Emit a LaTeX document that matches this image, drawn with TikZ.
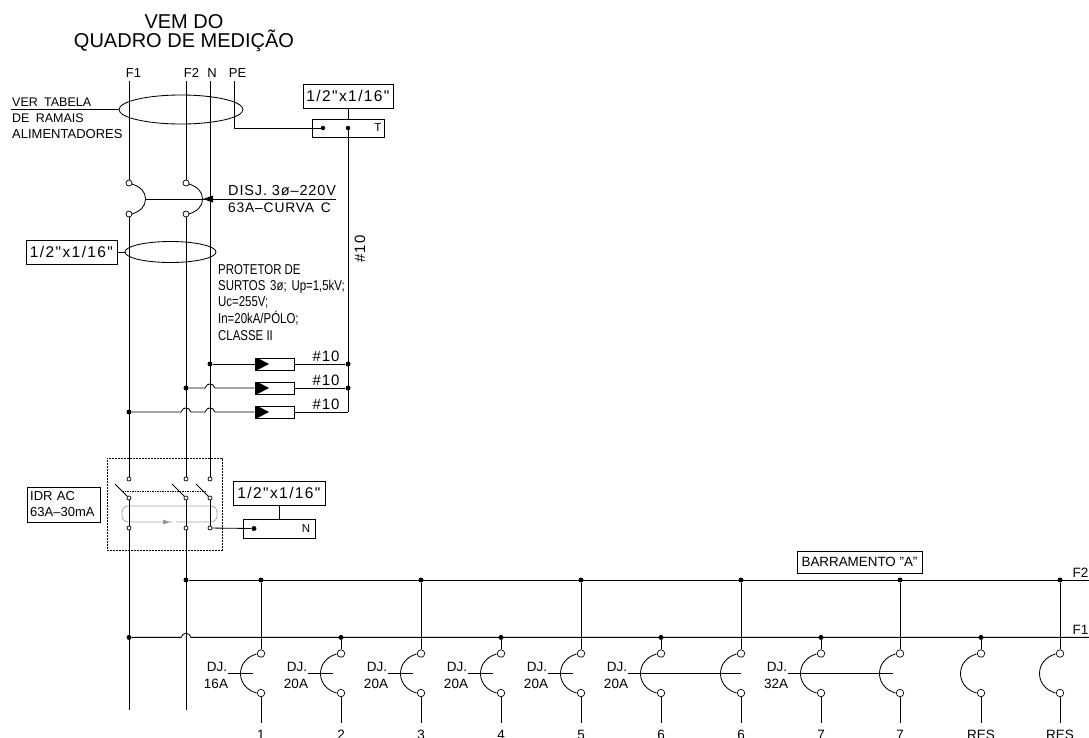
\documentclass[tikz,border=0pt]{standalone}
\usepackage{fontspec}
\usetikzlibrary{shapes.geometric}
\setmainfont{Liberation Sans}
\newfontfamily\narrowf[FakeStretch=0.8]{Liberation Sans}
\newfontfamily\spacedf[LetterSpace=6]{Liberation Sans}
\newfontfamily\widef[LetterSpace=9]{Liberation Sans}
\newcommand{\fs}[1]{\fontsize{#1}{#1}\selectfont}
\tikzset{
  wire/.style={line width=0.85pt,line join=miter},
  lbl/.style={inner sep=0pt,anchor=base west,font=\fs{13}},
  clbl/.style={inner sep=0pt,anchor=base,font=\fs{13.5}},
  dotn/.style={circle,fill=black,inner sep=0pt,minimum size=5pt},
  term/.style={circle,draw,fill=white,line width=0.7pt,inner sep=0pt,minimum size=7.5pt},
  smallterm/.style={circle,draw,fill=white,line width=0.7pt,inner sep=0pt,minimum size=4pt},
  bx/.style={draw,line width=0.9pt,inner sep=0pt,minimum width=#1},
  sizebox/.style={draw,line width=0.9pt,inner sep=0pt,font=\widef\fs{15.5},anchor=center},
  prot/.style={draw,line width=0.9pt,inner sep=0pt,minimum width=39pt,minimum height=12pt}
}
\begin{document}
\begin{tikzpicture}[x=1pt,y=-1pt]
\useasboundingbox (0,0) rectangle (1089,737);
\clip (0,0) rectangle (1089,737);
\fill[white] (0,0) rectangle (1089,737);

% title
\node[inner sep=0,anchor=base,font=\fs{20}] (t1) at (184,28) {VEM DO};
\node[inner sep=0,anchor=base,font=\fs{20}] (t2) at (184,47.5) {QUADRO DE MEDIÇÃO};

% top labels
\node[clbl,font=\fs{13}] (lf1) at (133.5,77) {F1};
\node[clbl,font=\fs{13}] (lf2) at (191.5,77) {F2};
\node[clbl,font=\fs{13}] (ln) at (212,77) {N};
\node[clbl,font=\fs{13}] (lpe) at (237.5,77) {PE};

\coordinate (f1top) at (129,81);
\coordinate (f2top) at (186,81);
\coordinate (ntop) at (210,81);
\coordinate (petop) at (234,81);

% feeder ellipse
\node[draw,wire,ellipse,inner sep=0pt,minimum width=124pt,minimum height=29pt] (el1) at (181,109.5) {};
\coordinate (verl) at (11,109.5);
\draw[wire] (verl) -- (el1.west);
\node[lbl,font=\fs{12.5}] (v1) at (12,106) {VER\,\,\,TABELA};
\node[lbl,font=\fs{12.5}] (v2) at (12,122) {DE\,\,\,RAMAIS};
\node[lbl,font=\fs{13}] (v3) at (12,138) {ALIMENTADORES};

% T bar
\node[sizebox,minimum width=90pt,minimum height=24pt] (bt) at (348,96) {1/2"x1/16"};
\node[bx=72pt,minimum height=18pt] (tbar) at (348,128) {};
\node[inner sep=0,font=\fs{11.5}] (tl) at (378,128) {T};
\node[dotn,minimum size=4.5pt] (t_a) at (323,128) {};
\node[dotn,minimum size=4.5pt] (t_b) at (348,128) {};
\draw[wire] (bt.south) -- (tbar.north);
\draw[wire] (petop) |- (t_a);

% main breaker
\node[term,minimum size=6pt] (m1u) at (129,183) {};
\node[term,minimum size=6pt] (m1l) at (129,214) {};
\node[term,minimum size=6pt] (m2u) at (186,183) {};
\node[term,minimum size=6pt] (m2l) at (186,214) {};
\draw[wire] (132,184) .. controls (141,187) and (145.5,192) .. (145.5,199) .. controls (145.5,206) and (141,211) .. (132,214);
\draw[wire] (189,184) .. controls (198,187) and (202.5,192) .. (202.5,199) .. controls (202.5,206) and (198,211) .. (189,214);
\coordinate (mlink) at (145.5,199);
\coordinate (mlabel) at (336,199);
\draw[wire] (mlink) -- (mlabel);
\fill (203,199) -- (213,195.5) -- (213,202.5) -- cycle;
\node[lbl,font=\spacedf\fs{14.5}] (dj1) at (228,195) {DISJ.\,\,3ø–220V};
\node[lbl,font=\spacedf\fs{13.8}] (dj2) at (228,212) {63A–CURVA\,\,\,C};

% 1/2 box with ellipse
\node[sizebox,minimum width=91pt,minimum height=24pt] (bl) at (71.5,252) {1/2"x1/16"};
\node[draw,wire,ellipse,inner sep=0pt,minimum width=91pt,minimum height=21pt] (el2) at (170.5,252) {};
\draw[wire] (bl.east) -- (el2.west);

% protector text
\node[lbl,font=\narrowf\fs{14.3}] (p1) at (218,274) {PROTETOR DE};
\node[lbl,font=\narrowf\fs{14.3}] (p2) at (218,290) {SURTOS\,\,3ø;\,\,Up=1,5kV;};
\node[lbl,font=\narrowf\fs{14.3}] (p3) at (218,306) {Uc=255V;};
\node[lbl,font=\narrowf\fs{14.3}] (p4) at (218,323) {In=20kA/PÓLO;};
\node[lbl,font=\narrowf\fs{14.3}] (p5) at (218,340) {CLASSE II};

% surge protectors
\foreach \nm/\y in {a/364,b/388,c/412}{
  \node[prot] (s\nm) at (274.5,\y) {};
  \fill (257.5,\y-6) -- (269,\y) -- (257.5,\y+6) -- cycle;
  \draw[line width=1.2pt] (257,\y-6) -- (257,\y+6);
  \node[clbl,font=\spacedf\fs{15}] (n\nm) at (326,\y-3) {\#10};
}
\node[dotn] (na) at (210,364) {};
\node[dotn] (nb) at (186,388) {};
\node[dotn] (nc) at (129,412) {};
\node[dotn] (ra) at (348,364) {};
\node[dotn] (rb) at (348,388) {};
\coordinate (rc) at (348,412);
\draw[wire] (na) -- (sa.west);
\draw[wire] (sa.east) -- (ra);
\draw[wire] (nb) -- (205,388) .. controls (207,382.5) and (213,382.5) .. (215,388) -- (sb.west);
\draw[wire] (sb.east) -- (rb);
\draw[wire] (nc) -- (181,412) .. controls (183,406.5) and (189,406.5) .. (191,412) -- (205,412) .. controls (207,406.5) and (213,406.5) .. (215,412) -- (sc.west);
\draw[wire] (sc.east) -- (rc);
\draw[wire] (t_b) -- (rc);
\node[inner sep=0,rotate=90,font=\spacedf\fs{15}] (n10v) at (360,249) {\#10};

% IDR
\node[draw,dash pattern=on 2pt off 1pt,line width=0.8pt,inner sep=0,minimum width=115pt,minimum height=92pt] (idr) at (164.5,504) {};
\node[draw,line width=0.9pt,inner sep=0,minimum width=73pt,minimum height=35pt] (idrb) at (63.5,504.5) {};
\node[lbl,font=\fs{13}] (i1) at (30,500.5) {IDR\,\,AC};
\node[lbl,font=\fs{13}] (i2) at (30,516) {63A–30mA};

\draw[gray!70,line width=0.8pt,rounded corners=6pt] (172,522) -- (122,522) -- (122,506) -- (217,506) -- (217,522) -- (176,522);
\fill[gray!80] (170,522) -- (163,519.5) -- (163,524.5) -- cycle;
\draw[dash pattern=on 1.5pt off 1pt,line width=0.8pt] (122,491) -- (205,491);
\foreach \nm/\x in {a/129,b/186,c/210}{
  \node[smallterm] (i\nm u) at (\x,479) {};
  \node[smallterm] (i\nm m) at (\x,498) {};
  \node[smallterm] (i\nm l) at (\x,528) {};
  \draw[wire] ({\x-14},484) -- (i\nm m);
  \draw[wire] (i\nm m) -- (i\nm l);
}

% wires to IDR and onward
\draw[wire] (f1top) -- (m1u);
\draw[wire] (f2top) -- (m2u);
\draw[wire] (m1l) -- (iau);
\draw[wire] (m2l) -- (ibu);
\draw[wire] (ntop) -- (icu);
\coordinate (f1bot) at (129,710);
\coordinate (f2bot) at (186,710);
\draw[wire] (ial) -- (f1bot);
\draw[wire] (ibl) -- (f2bot);

% N bar
\node[sizebox,minimum width=92pt,minimum height=24pt] (bn) at (279,493) {1/2"x1/16"};
\node[bx=72pt,minimum height=19pt] (nbar) at (279,528.5) {};
\node[inner sep=0,font=\fs{11.5}] (nl) at (306,528.5) {N};
\node[dotn] (n_a) at (254,528.5) {};
\draw[wire] (bn.south) -- (nbar.north);
\draw[wire] (icl) -- (n_a);

% buses
\node[dotn] (b2s) at (186,580) {};
\node[dotn] (b1s) at (129,637.4) {};
\coordinate (b2e) at (1089,580);
\coordinate (b1e) at (1089,637.4);
\draw[wire] (b2s) -- (b2e);
\draw[wire] (b1s) -- (181,637.4) .. controls (183,631.9) and (189,631.9) .. (191,637.4) -- (b1e);
\node[clbl,font=\fs{13.5}] (lb2) at (1080.5,577) {F2};
\node[clbl,font=\fs{13.5}] (lb1) at (1080.5,634) {F1};
\node[draw,line width=0.9pt,inner sep=0,minimum width=125pt,minimum height=22pt,font=\fs{13.4}] (barr) at (859.5,562) {BARRAMENTO "A"};

% branch breakers
\foreach \x/\by/\txt in {261/580/1,341/637.4/2,421/580/3,501/637.4/4,581/580/5,661/637.4/6,741/580/6,821/637.4/7,900/580/7,981/637.4/RES,1060/580/RES}{
  \node[dotn] (d\x) at (\x,\by) {};
  \node[term] (u\x) at (\x,653.5) {};
  \node[term] (l\x) at (\x,693) {};
  \coordinate (e\x) at (\x,723);
  \draw[wire] (d\x) -- (u\x);
  \draw[wire] (l\x) -- (e\x);
  \draw[wire] ({\x-4.5},654) .. controls ({\x-15},657) and ({\x-20.5},665) .. ({\x-20.5},673.5) .. controls ({\x-20.5},682) and ({\x-15},690) .. ({\x-4.5},693);
  \node[clbl] (c\x) at (\x,739) {\txt};
}
% labels and ticks
\foreach \x/\amp in {261/16A,341/20A,421/20A,501/20A,581/20A,661/20A,821/32A}{
  \node[clbl] (dja\x) at ({\x-44},671) {DJ.};
  \node[clbl] (djb\x) at ({\x-45},688) {\amp};
}
\foreach \x in {261,341,421,501,581}{
  \draw[wire] ({\x-33},673.5) -- ({\x-8},673.5);
}
\coordinate (tk1) at (628,673.5);
\coordinate (tk2) at (741,673.5);
\coordinate (tk3) at (788,673.5);
\coordinate (tk4) at (893,673.5);
\draw[wire] (tk1) -- (tk2);
\draw[wire] (tk3) -- (tk4);
\end{tikzpicture}
\end{document}
